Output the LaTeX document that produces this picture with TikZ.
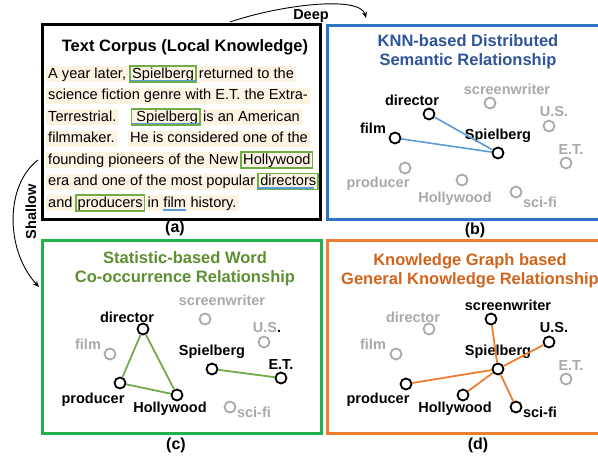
\documentclass[tikz,border=0pt]{standalone}
\usepackage{fontspec}
\setmainfont{Liberation Sans}
\usetikzlibrary{arrows.meta}
\definecolor{pblue}{HTML}{2E75C6}
\definecolor{tblue}{HTML}{2F5597}
\definecolor{eblue}{HTML}{5B9BD5}
\definecolor{pgreen}{HTML}{22B14C}
\definecolor{tgreen}{HTML}{5E8E32}
\definecolor{egreen}{HTML}{70AD47}
\definecolor{porange}{HTML}{ED7D31}
\definecolor{torange}{HTML}{D0641C}
\definecolor{grayc}{HTML}{A9A9A9}
\definecolor{peach}{HTML}{FDF3E2}
\tikzset{
  panel/.style={line width=3pt},
  vtx/.style={circle, draw=black, line width=1.8pt, minimum size=11pt, inner sep=0pt},
  gvtx/.style={vtx, draw=grayc},
  lbl/.style={font=\bfseries\fontsize{14.5}{16}\selectfont, inner sep=0pt},
  glbl/.style={lbl, text=grayc},
  ttl/.style={font=\bfseries\fontsize{16.5}{19}\selectfont, align=center, inner sep=0pt},
  plabel/.style={font=\bfseries\fontsize{16}{18}\selectfont, inner sep=0pt},
  body/.style={font=\fontsize{14.6}{17}\selectfont, fill=peach, inner xsep=2pt, inner ysep=0pt, text height=12pt, text depth=4pt, anchor=base west},
  wbox/.style={body, draw=egreen, line width=1.8pt},
  uline/.style={draw=eblue, line width=1.6pt},
  bedge/.style={draw=eblue, line width=1.6pt},
  gedge/.style={draw=egreen, line width=1.8pt},
  oedge/.style={draw=porange, line width=1.8pt},
  flow/.style={-{Stealth[length=6pt,width=5pt]}, line width=0.9pt}
}
\begin{document}
\begin{tikzpicture}[x=1pt,y=-1pt]
\useasboundingbox (0,0) rectangle (598,458);
% ---------------- panel (a)
\draw[panel] (42,24) rectangle (320,219);
\node[ttl] (ta) at (185,47) {Text Corpus (Local Knowledge)};
% line 1
\node[body] (l1a) at (46,78) {A year later,};
\node[wbox] (w1) at ([xshift=1pt]l1a.base east) {Spielberg\hspace{3pt}};
\node[body] (l1b) at (w1.base east) {returned to the};
% line 2
\node[body] (l2a) at (46,99.5) {science fiction genre with E.T. the Extra-};
% line 3
\node[body] (l3a) at (46,121) {Terrestrial.};
\node[wbox] (w2) at ([xshift=12pt]l3a.base east) {\hspace{3pt}Spielberg};
\node[body] (l3b) at (w2.base east) {is an American};
% line 4
\node[body] (l4a) at (46,142.5) {filmmaker.};
\node[body] (l4b) at ([xshift=11pt]l4a.base east) {He is considered one of the};
% line 5
\node[body] (l5a) at (46,164) {founding pioneers of the New};
\node[wbox] (w3) at (l5a.base east) {Hollywood};
% line 6
\node[body] (l6a) at (46,185.5) {era and one of the most popular};
\node[wbox] (w4) at (l6a.base east) {directors};
% line 7
\node[body] (l7a) at (46,207) {and};
\node[wbox] (w5) at (l7a.base east) {producers};
\node[body] (l7b) at (w5.base east) {in};
\node[body] (l7c) at (l7b.base east) {film};
\node[body] (l7d) at (l7c.base east) {history.};
% underlines
\draw[uline] ([yshift=2.5pt]w1.south west) -- ([yshift=2.5pt]w1.south east);
\draw[uline] ([yshift=2.5pt]w2.south west) -- ([yshift=2.5pt]w2.south east);
\draw[uline] ([yshift=2.5pt]w4.south west) -- ([xshift=-5pt,yshift=2.5pt]w4.south east);
\draw[uline] ([xshift=2pt,yshift=1pt]l7c.south west) -- ([xshift=-2pt,yshift=1pt]l7c.south east);
\node[plabel] (ca) at (175,228) {(a)};
% ---------------- arrows Deep / Shallow
\coordinate (deepS) at (230,22);
\coordinate (deepE) at (366,18);
\draw[flow] (deepS) .. controls (280,5) and (360,-5) .. (deepE);
\node[lbl] (deep) at (311,16) {Deep};
\coordinate (shS) at (38,160);
\coordinate (shE) at (39,287);
\draw[flow] (shS) .. controls (5,185) and (5,250) .. (shE);
\node[lbl, rotate=90] (shallow) at (31,212) {Shallow};
% ---------------- panel (b)
\draw[panel, draw=pblue] (600,25) -- (327,25) -- (327,219) -- (600,219);
\node[ttl, text=tblue] (tb) at (468,52) {KNN-based Distributed\\Semantic Relationship};
\node[gvtx] (bscr) at (490,103) {};
\node[glbl] (bscrl) at (507,89) {screenwriter};
\node[gvtx] (bus) at (549,126) {};
\node[glbl] (busl) at (554,112) {U.S.};
\node[gvtx] (bet) at (566,163) {};
\node[glbl] (betl) at (571,150) {E.T.};
\node[gvtx] (bpro) at (405,168) {};
\node[glbl] (bprol) at (378,184) {producer};
\node[gvtx] (bhol) at (462,180) {};
\node[glbl] (bholl) at (455,199) {Hollywood};
\node[gvtx] (bsci) at (516,192) {};
\node[glbl] (bscil) at (540,202) {sci-fi};
\node[vtx] (bdir) at (429,114) {};
\node[lbl] (bdirl) at (412,100) {director};
\node[vtx] (bfilm) at (395,138) {};
\node[lbl] (bfilml) at (373,128) {film};
\node[vtx] (bspi) at (498,153) {};
\node[lbl] (bspil) at (498,136) {Spielberg};
\draw[bedge] (bdir) -- (bspi);
\draw[bedge] (bfilm) -- (bspi);
\node[plabel] (cb) at (475,230) {(b)};
% ---------------- panel (c)
\draw[panel, draw=pgreen] (42,240) rectangle (321,433);
\node[ttl, text=tgreen] (tc) at (185,269) {Statistic-based Word\\Co-occurrence Relationship};
\node[gvtx] (cscr) at (205,319) {};
\node[glbl] (cscrl) at (222,300) {screenwriter};
\node[gvtx] (cfilm) at (110,354) {};
\node[glbl] (cfilml) at (88,344) {film};
\node[gvtx] (cus) at (264,342) {};
\node[lbl] (cusl) at (267,328) {\textcolor{grayc}{U.S}.};
\node[gvtx] (csci) at (230,407) {};
\node[glbl] (cscil) at (254,412) {sci-fi};
\node[vtx] (cdir) at (143,329) {};
\node[lbl] (cdirl) at (127,317) {director};
\node[vtx] (cspi) at (212,369) {};
\node[lbl] (cspil) at (212,352) {Spielberg};
\node[vtx] (cet) at (281,378) {};
\node[lbl] (cetl) at (281,365) {E.T.};
\node[vtx] (cpro) at (120,383) {};
\node[lbl] (cprol) at (93,400) {producer};
\node[vtx] (chol) at (177,395) {};
\node[lbl] (choll) at (170,409) {Hollywood};
\draw[gedge] (cdir) -- (cpro);
\draw[gedge] (cdir) -- (chol);
\draw[gedge] (cpro) -- (chol);
\draw[gedge] (cspi) -- (cet);
\node[plabel] (cc) at (176,445) {(c)};
% ---------------- panel (d)
\draw[panel, draw=porange] (600,240) -- (327,240) -- (327,433) -- (600,433);
\node[ttl, text=torange, anchor=north] (td) at (470,253) {Knowledge Graph based\\General Knowledge Relationship};
\node[gvtx] (ddir) at (429,329) {};
\node[glbl] (ddirl) at (413,317) {director};
\node[gvtx] (dfilm) at (396,354) {};
\node[glbl] (dfilml) at (373,344) {film};
\node[gvtx] (det) at (566,379) {};
\node[glbl] (detl) at (571,366) {E.T.};
\node[vtx] (dscr) at (491,319) {};
\node[lbl] (dscrl) at (508,305) {screenwriter};
\node[vtx] (dus) at (549,342) {};
\node[lbl] (dusl) at (554,328) {U.S.};
\node[vtx] (dspi) at (498,369) {};
\node[lbl] (dspil) at (498,352) {Spielberg};
\node[vtx] (dpro) at (406,384) {};
\node[lbl] (dprol) at (378,400) {producer};
\node[vtx] (dhol) at (463,395) {};
\node[lbl] (dholl) at (455,409) {Hollywood};
\node[vtx] (dsci) at (516,407) {};
\node[lbl] (dscil) at (540,412) {sci-fi};
\draw[oedge] (dspi) -- (dscr);
\draw[oedge] (dspi) -- (dus);
\draw[oedge] (dspi) -- (dpro);
\draw[oedge] (dspi) -- (dhol);
\draw[oedge] (dspi) -- (dsci);
\node[plabel] (cd) at (478,445) {(d)};
\end{tikzpicture}
\end{document}
